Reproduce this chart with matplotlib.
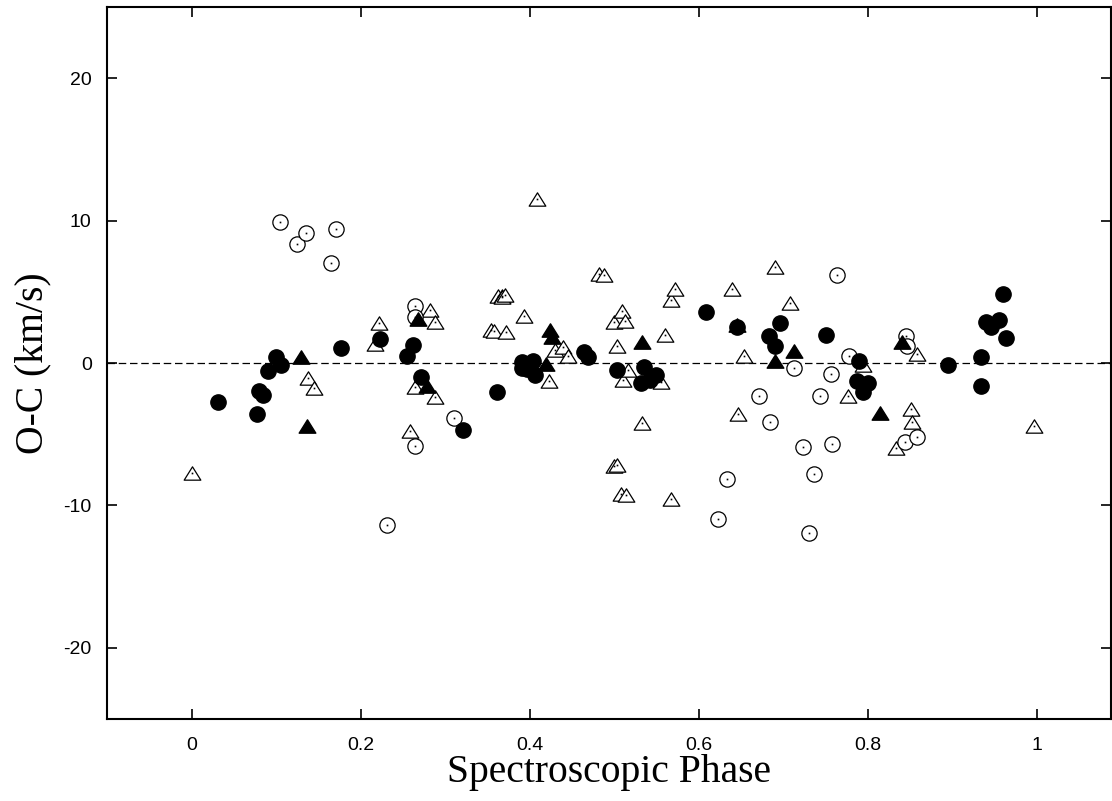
#!/usr/bin/env python3
# -*- coding: utf-8 -*-

import numpy as np
import matplotlib
matplotlib.use("Agg")
import matplotlib.pyplot as plt
from matplotlib.path import Path

# filled circles
fc_phase = [0.031, 0.078, 0.080, 0.085, 0.091, 0.100, 0.106, 0.177, 0.223, 0.255,
            0.262, 0.272, 0.321, 0.361, 0.391, 0.397, 0.391, 0.404, 0.407, 0.465,
            0.469, 0.503, 0.536, 0.550, 0.532, 0.543, 0.609, 0.646, 0.683, 0.691,
            0.696, 0.751, 0.790, 0.787, 0.800, 0.794, 0.895, 0.934, 0.934, 0.940,
            0.946, 0.955, 0.960, 0.964]
fc_oc = [-2.71, -3.58, -1.99, -2.24, -0.58, 0.42, -0.17, 1.05, 1.70, 0.46,
         1.28, -0.96, -4.68, -2.04, 0.04, -0.41, -0.35, 0.15, -0.82, 0.74,
         0.44, -0.50, -0.30, -0.87, -1.40, -1.22, 3.58, 2.52, 1.87, 1.17,
         2.83, 1.99, 0.11, -1.29, -1.40, -2.04, -0.12, 0.39, -1.59, 2.85,
         2.52, 3.04, 4.84, 1.73]

# filled triangles
ft_phase = [0.130, 0.137, 0.268, 0.279, 0.419, 0.424, 0.427, 0.533, 0.645, 0.691,
            0.713, 0.815, 0.841]
ft_oc = [0.42, -4.44, 3.08, -1.64, -0.07, 2.34, 1.82, 1.47, 2.69, 0.11,
         0.81, -3.51, 1.45]

# open circles
oc_phase = [0.105, 0.125, 0.135, 0.165, 0.171, 0.264, 0.264, 0.311, 0.264, 0.231,
            0.764, 0.778, 0.713, 0.757, 0.671, 0.744, 0.684, 0.723, 0.758, 0.737,
            0.634, 0.623, 0.731, 0.846, 0.847, 0.844, 0.858]
oc_oc = [9.89, 8.39, 9.16, 7.03, 9.44, 3.97, 3.20, -3.86, -5.85, -11.36,
         6.19, 0.46, -0.33, -0.75, -2.34, -2.34, -4.14, -5.92, -5.66, -7.81,
         -8.16, -10.92, -11.95, 1.91, 1.17, -5.52, -5.19]

# open triangles
ot_phase = [0.000, 0.138, 0.145, 0.217, 0.222, 0.259, 0.265, 0.282, 0.288, 0.288,
            0.354, 0.358, 0.363, 0.367, 0.367, 0.371, 0.372, 0.393, 0.409, 0.423,
            0.430, 0.440, 0.445, 0.482, 0.488, 0.500, 0.500, 0.504, 0.504, 0.508,
            0.509, 0.511, 0.513, 0.514, 0.516, 0.533, 0.555, 0.560, 0.567, 0.567,
            0.572, 0.640, 0.647, 0.654, 0.691, 0.708, 0.777, 0.794, 0.834, 0.851,
            0.853, 0.859, 0.997]
ot_oc = [-7.72, -1.05, -1.76, 1.33, 2.80, -4.79, -1.69, 3.74, 2.90, -2.39,
         2.34, 2.22, 4.67, 4.72, 4.60, 4.81, 2.15, 3.27, 11.50, -1.29,
         0.93, 1.09, 0.51, 6.26, 6.17, 2.85, -7.25, 1.17, -7.13, -9.19,
         3.62, -1.17, 2.92, -9.26, -0.47, -4.21, -1.36, 1.98, 4.44, -9.54,
         5.19, 5.19, -3.56, 0.46, 6.77, 4.21, -2.34, -0.12, -5.96, -3.20,
         -4.14, 0.63, -4.40]

plt.rcParams["axes.unicode_minus"] = False

tri = Path([(0, 0.8), (-1, -0.8), (1, -0.8), (0, 0.8)],
           [Path.MOVETO, Path.LINETO, Path.LINETO, Path.CLOSEPOLY])

fig = plt.figure(figsize=(11.12, 8.01), dpi=100)
ax = fig.add_axes([107 / 1112, 82 / 801, 1004 / 1112, 712 / 801])

ax.axhline(0, color="black", lw=0.9, ls=(0, (6, 3)), zorder=1)

ax.plot(ot_phase, ot_oc, ls="none", marker=tri, ms=12, mfc="white", mec="black",
        mew=0.9, zorder=2)
ax.plot(ot_phase, ot_oc, ls="none", marker="s", ms=1.2, mfc="black", mew=0, zorder=2)
ax.plot(oc_phase, oc_oc, ls="none", marker="o", ms=11, mfc="white", mec="black",
        mew=0.9, zorder=3)
ax.plot(oc_phase, oc_oc, ls="none", marker="s", ms=1.2, mfc="black", mew=0, zorder=3)
ax.plot(ft_phase, ft_oc, ls="none", marker=tri, ms=12, color="black", zorder=4)
ax.plot(fc_phase, fc_oc, ls="none", marker="o", ms=11, color="black", zorder=5)

ax.set_xlim(-0.1, 1.088)
ax.set_ylim(-25, 25)
ax.set_xticks([0, 0.2, 0.4, 0.6, 0.8, 1])
ax.set_xticklabels(["0", "0.2", "0.4", "0.6", "0.8", "1"])
ax.set_yticks([-20, -10, 0, 10, 20])

for s in ax.spines.values():
    s.set_linewidth(1.5)
ax.tick_params(direction="in", length=7, width=1.2, top=True, right=True,
               labelsize=14)
ax.tick_params(axis="x", pad=13)
ax.tick_params(axis="y", pad=11)
for lab in ax.get_xticklabels() + ax.get_yticklabels():
    lab.set_family("Liberation Sans")

ax.set_xlabel("Spectroscopic Phase", family="Liberation Serif", fontsize=28.5,
              labelpad=0)
ax.set_ylabel("O-C (km/s)", family="Liberation Serif", fontsize=28.5, labelpad=9)

fig.savefig("out.png", dpi=100)
